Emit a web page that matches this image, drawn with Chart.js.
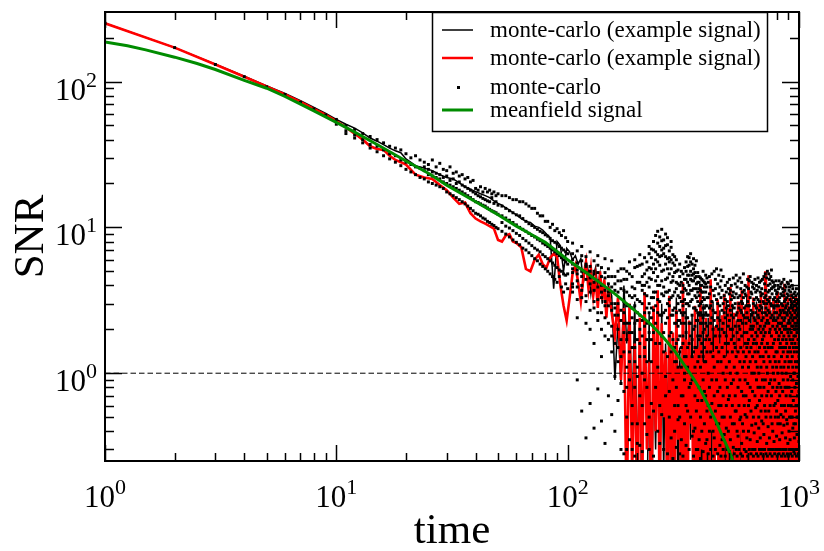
<!DOCTYPE html>
<html>
<head>
<meta charset="utf-8">
<script src="https://cdn.jsdelivr.net/npm/chart.js@4.4.1/dist/chart.umd.min.js"></script>
<style>
  html, body { margin: 0; padding: 0; background: #fff; }
</style>
</head>
<body>
<canvas id="snrChart" width="824" height="551"></canvas>
<script>
// time grid shared by the two example signals
const lineTime = [
  1, 2, 3, 4, 5, 6, 7, 8, 9, 10, 11, 12, 13, 14, 15, 16, 17, 18, 19, 20,
  22, 24, 26, 28, 30, 32, 34, 36, 38, 40, 42, 44, 46, 48, 50, 52, 54, 56, 58, 60,
  63, 66, 69, 72, 75, 78, 81, 84, 87, 90, 93, 96, 99, 102, 105, 108, 111, 114, 117, 120,
  123, 126, 129, 132, 135, 138, 141, 144, 147, 150,
  155, 160, 165, 170, 175, 180, 185, 190, 195, 200, 205, 210, 215, 220, 225, 230, 235, 240, 245, 250,
  255, 260, 265, 270, 275, 280, 285, 290, 295, 300, 305, 310, 315, 320, 325, 330, 335, 340, 345, 350,
  355, 360, 365, 370, 375, 380, 385, 390, 395, 400, 405, 410, 415, 420, 425, 430, 435, 440, 445, 450,
  455, 460, 465, 470, 475, 480, 485, 490, 495, 500, 505, 510, 515, 520, 525, 530, 535, 540, 545, 550,
  555, 560, 565, 570, 575, 580, 585, 590, 595, 600, 605, 610, 615, 620, 625, 630, 635, 640, 645, 650,
  655, 660, 665, 670, 675, 680, 685, 690, 695, 700, 705, 710, 715, 720, 725, 730, 735, 740, 745, 750,
  755, 760, 765, 770, 775, 780, 785, 790, 795, 800, 805, 810, 815, 820, 825, 830, 835, 840, 845, 850,
  855, 860, 865, 870, 875, 880, 885, 890, 895, 900, 905, 910, 915, 920, 925, 930, 935, 940, 945, 950,
  955, 960, 965, 970, 975, 980, 985, 990, 995, 1000
];

// monte-carlo example signal (black)
const exampleBlack = [
  251, 171, 131.5, 109, 93.5, 83, 74, 66.5, 60.5, 55, 51, 48, 44.5, 41, 39, 37, 35, 33.5, 32.5, 29.5,
  26.5, 25.5, 24.5, 23, 22, 21.5, 20.2, 19, 18.3, 17.6, 17, 16.5, 16, 15.2, 14.6, 14.2, 13.6, 13.2, 12.6, 12.2,
  11.5, 11, 10.8, 10.2, 10, 9.6, 9, 8.5, 3.8, 8, 7.5, 5, 7.2, 6.8, 6, 6.4, 5.6, 6.1, 4.2, 5.8,
  5, 3.5, 4.6, 5.3, 3.9, 4.8, 3, 4.3, 2.6, 4,
  3.4, 0.9, 2.2, 0.85, 4.0, 1.6, 2.5, 0.5, 3.1, 0.2, 1.8, 0.06, 0.1, 0.07, 2.6, 0.05, 1.4, 0.3, 2.0, 0.12,
  3.0, 0.2, 1.6, 0.4, 2.4, 0.08, 1.2, 0.25, 3.3, 0.1, 1.5, 0.3, 2.2, 0.07, 2.8, 0.18, 1.0, 0.35, 2.5, 0.09,
  1.7, 0.4, 2.6, 0.12, 1.3, 0.06, 3.0, 0.2, 1.6, 0.3, 2.4, 0.08, 1.5, 0.22, 3.1, 0.1, 1.9, 0.45, 1.2, 0.07,
  2.7, 0.15, 1.4, 0.3, 2.2, 0.06, 3.2, 0.2, 1.5, 0.1, 2.1, 0.35, 3.0, 0.08, 1.6, 0.25, 2.3, 0.06, 1.8, 0.4,
  2.9, 0.1, 1.3, 0.2, 2.5, 0.07, 1.7, 0.3, 3.4, 0.12, 1.9, 0.05, 2.6, 0.28, 1.4, 0.09, 2.2, 0.4, 1.6, 0.06,
  3.1, 0.18, 1.8, 0.08, 2.4, 0.3, 1.5, 0.1, 2.9, 0.2, 1.6, 0.35, 2.3, 0.07, 3.0, 0.15, 1.3, 0.06, 2.0, 0.25,
  2.7, 0.09, 1.9, 0.3, 1.4, 0.05, 3.2, 0.2, 1.8, 0.1, 2.2, 0.4, 1.5, 0.08, 2.6, 0.12, 3.0, 0.3, 1.2, 0.06,
  2.4, 0.15, 1.7, 0.25, 3.3, 0.07, 1.6, 0.35, 2.1, 0.09, 1.5, 0.3, 2.8, 0.06, 1.9, 0.2, 2.5, 0.1, 3.0, 0.18,
  1.7, 0.07, 2.3, 0.3, 1.4, 0.12, 2.6, 0.05, 2.0, 0.06
];

// monte-carlo example signal (red)
const exampleRed = [
  251, 171, 131, 108, 92.5, 81.5, 72.5, 65, 59, 53.5, 48.5, 44, 40, 36, 34.5, 34, 31, 29, 28, 27,
  23, 22, 21.5, 19.5, 18, 16, 14.5, 14.8, 12.5, 11.5, 11, 10.6, 10.2, 9.8, 8.2, 8, 8.8, 9, 8, 7.8,
  7.3, 5.2, 5, 6, 6.5, 5.6, 5.3, 6.2, 6.6, 6.3, 4, 2.9, 2.3, 3.3, 4.8, 5.5, 4.2, 3.1, 4.6, 5.8,
  3.8, 5.2, 3.4, 4.5, 2.8, 5, 3.2, 4.4, 2.4, 3.9,
  2.6, 1.8, 3.3, 0.9, 2.8, 0.1, 3.0, 0.2, 1.6, 0.08, 2.4, 0.15, 3.6, 0.3, 1.2, 0.07, 2.9, 0.4, 3.7, 0.1,
  2.2, 0.5, 1.4, 0.06, 3.4, 0.2, 1.9, 0.12, 2.7, 0.35, 1.1, 0.08, 4.2, 0.25, 1.7, 0.1, 2.3, 0.45, 1.3, 0.07,
  2.9, 0.18, 1.5, 0.09, 3.9, 0.3, 1.2, 0.06, 2.4, 0.2, 1.8, 0.11, 4.4, 0.4, 1.4, 0.07, 2.1, 0.28, 3.2, 0.09,
  1.6, 0.2, 2.5, 0.06, 3.5, 0.35, 1.3, 0.1, 2.8, 0.15, 3.9, 0.08, 1.7, 0.3, 2.6, 0.05, 1.4, 0.22, 3.1, 0.1,
  2.0, 0.4, 3.7, 0.07, 1.5, 0.18, 2.9, 0.09, 1.9, 0.3, 4.7, 0.12, 2.2, 0.06, 1.6, 0.33, 3.3, 0.1, 2.4, 0.2,
  1.4, 0.08, 3.0, 0.27, 2.1, 0.06, 3.6, 0.15, 1.7, 0.4, 2.5, 0.09, 5.0, 0.2, 1.8, 0.07, 2.7, 0.3, 3.4, 0.11,
  1.9, 0.25, 2.6, 0.06, 3.2, 0.16, 1.5, 0.08, 2.3, 0.35, 3.6, 0.1, 2.0, 0.05, 2.9, 0.22, 1.6, 0.12, 3.0, 0.07,
  1.8, 0.3, 4.1, 0.09, 2.2, 0.18, 1.4, 0.06, 3.3, 0.14, 2.6, 0.08, 1.7, 0.4, 3.5, 0.1, 2.0, 0.25, 1.3, 0.06,
  2.8, 0.2, 3.4, 0.07, 1.6, 0.3, 2.4, 0.11, 1.9, 0.09
];

// monte-carlo realisations (dots): one list of values per time
const mcTime = [
  1, 2, 3, 4, 5, 6, 7, 8, 9, 10, 11, 12, 13, 14, 15, 16, 17, 18, 19, 20,
  21, 22, 23, 24, 25, 26, 27, 28, 29, 30, 31, 32, 33, 34, 35, 36, 37, 38, 39, 40,
  41, 42, 43, 44, 45, 46, 47, 48, 49, 50,
  52, 54, 56, 58, 60, 62, 64, 66, 68, 70, 72, 74, 76, 78, 80, 82, 84, 86, 88, 90, 92, 94, 96, 98, 100,
  105, 110, 115, 120, 125, 130, 135, 140, 145, 150, 155, 160, 165, 170, 175, 180, 185, 190, 195, 200,
  205, 210, 215, 220, 225, 230, 235, 240, 245, 250, 255, 260, 265, 270, 275, 280, 285, 290, 295, 300,
  305, 310, 315, 320, 325, 330, 335, 340, 345, 350, 355, 360, 365, 370, 375, 380, 385, 390, 395, 400,
  405, 410, 415, 420, 425, 430, 435, 440, 445, 450, 455, 460, 465, 470, 475, 480, 485, 490, 495, 500,
  505, 510, 515, 520, 525, 530, 535, 540, 545, 550, 555, 560, 565, 570, 575, 580, 585, 590, 595, 600,
  605, 610, 615, 620, 625, 630, 635, 640, 645, 650, 655, 660, 665, 670, 675, 680, 685, 690, 695, 700,
  705, 710, 715, 720, 725, 730, 735, 740, 745, 750, 755, 760, 765, 770, 775, 780, 785, 790, 795, 800,
  805, 810, 815, 820, 825, 830, 835, 840, 845, 850, 855, 860, 865, 870, 875, 880, 885, 890, 895, 900,
  905, 910, 915, 920, 925, 930, 935, 940, 945, 950, 955, 960, 965, 970, 975, 980, 985, 990, 995, 1000
];

const mcSnr = [
  [251], [171], [131], [108], [92], [81.5], [72], [65], [59], [55, 51],
  [50, 46, 44], [47, 43, 41], [44, 40, 38], [42, 37, 35], [40, 36, 33],
  [38, 34, 31], [36, 32, 29.5], [35, 31, 28], [34, 29, 26.5], [32, 28, 25],
  [30, 27, 24], [31, 26, 23], [29, 25.5, 22], [28, 24.5, 21.5, 26], [27, 23, 20.5, 25],
  [29, 22.5, 20, 24], [26, 22, 19.5, 23.5], [27.5, 21.5, 19, 23], [25, 20.5, 18.5, 22], [24.5, 20, 17.5, 22.5],
  [26, 19.5, 17, 21], [23.5, 19, 16.5, 21.5], [24, 18.5, 16, 20], [22.5, 18, 15.5, 20.5], [23, 17.5, 15, 19.5],
  [21.5, 17, 14.5, 19], [22, 16.5, 14, 18.5], [20.5, 16, 13.5, 18], [21, 15.5, 13, 17.5], [18.5, 15, 12.5, 17],
  [18, 14.8, 12.3, 16.5], [19, 14.5, 12, 16.2], [17.5, 14.2, 11.6, 15.8], [18.5, 14, 11.4, 15.5], [17.5, 13.6, 11, 15.2],
  [18, 13.3, 10.8, 15], [17, 13, 10.5, 16], [17.5, 12.8, 10.3, 14.6], [16.5, 12.6, 10, 15], [17, 12.3, 9.8, 14.2],
  [16.5, 12, 9.4, 14, 10.8], [16.5, 11.6, 9, 13.5, 10.2], [16, 11.2, 8.6, 13, 9.9], [15.5, 10.8, 8.2, 12.6, 9.5], [15.5, 10.4, 7.9, 12.2, 9.1],
  [15, 10, 7.6, 12, 8.8], [15, 9.7, 7.2, 11.5, 8.4], [14.5, 9.4, 7, 11, 8.1], [14, 9.1, 6.7, 10.6, 7.8], [13.5, 8.8, 6.4, 10.3, 7.5],
  [13.5, 8.6, 6.1, 10, 7.2], [12.5, 8.3, 5.9, 9.7, 7], [12, 8.1, 5.6, 9.4, 6.8], [12, 7.8, 5.4, 9.2, 6.5], [11, 7.6, 5.2, 8.9, 6.3],
  [11, 7.4, 5, 8.7, 6.1], [10, 7.2, 4.8, 8.4, 5.9], [10.5, 7, 4.6, 8.1, 5.7], [9.5, 6.8, 4.4, 7.9, 5.5], [9.8, 6.6, 4.2, 7.7, 5.3],
  [9.2, 6.4, 4.6, 7.4, 5.1], [8.8, 6.2, 3.9, 7.2, 5], [9.5, 6, 3.6, 7, 4.8], [8.5, 5.8, 4.1, 6.8, 4.7], [8, 5.6, 3.8, 6.6, 4.8],
  [6.6, 4.9, 7.8, 3.9, 5.6, 5.2, 4.1, 6.0, 3.6], [5.1, 0.9, 6.9, 4.3, 3.2, 4.8, 5.7, 3.9, 2.4],
  [4.6, 7.4, 0.55, 5.9, 3.7, 4.0, 5.0, 3.3, 6.4], [3.4, 5.4, 0.36, 6.3, 4.4, 4.9, 3.1, 5.6, 2.2],
  [0.62, 4.1, 6.8, 2.7, 5.0, 3.6, 4.5, 2.0, 5.4], [4.8, 0.42, 3.1, 5.9, 1.6, 4.2, 2.8, 5.0, 3.7],
  [2.3, 6.4, 0.78, 3.9, 4.9, 3.2, 4.3, 2.6, 5.5], [5.3, 1.3, 0.47, 3.6, 2.6, 4.6, 3.3, 2.0, 4.0],
  [0.33, 4.5, 2.9, 6.1, 1.8, 3.7, 2.4, 4.9, 3.1], [3.4, 0.7, 5.2, 2.2, 4.1, 2.9, 4.6, 1.7, 3.6],
  [1.4, 5.9, 0.52, 3.0, 2.1, 3.9, 2.7, 4.6, 1.8], [4.6, 2.5, 0.95, 3.7, 0.4, 3.0, 4.1, 1.6, 2.8],
  [2.0, 0.65, 4.3, 1.2, 3.0, 3.6, 2.5, 5.0, 1.5], [5.2, 0.3, 2.7, 1.7, 0.85, 2.3, 3.8, 1.3, 4.3],
  [3.1, 0.75, 4.4, 1.4, 0.28, 2.2, 2.6, 3.7, 1.9, 5.2], [0.5, 2.2, 3.6, 1.1, 5.0, 0.3, 2.9, 1.7, 4.4, 0.8],
  [1.9, 4.8, 0.35, 2.9, 0.9, 1.4, 3.4, 2.2, 5.8, 1.2], [3.9, 0.6, 1.5, 2.4, 0.3, 0.45, 2.8, 4.6, 1.9, 3.3],
  [0.8, 2.9, 5.3, 1.2, 3.8, 0.27, 2.2, 3.4, 1.5, 6.0], [2.6, 0.45, 4.2, 1.7, 0.95, 0.33, 3.2, 5.4, 2.3, 1.1],
  [5.5, 1.3, 3.1, 0.32, 2.0, 0.7, 4.2, 2.5, 6.5, 1.6], [1.0, 3.7, 0.6, 4.6, 2.3, 0.29, 3.0, 5.6, 1.8, 4.0],
  [4.0, 2.1, 6.2, 0.45, 1.5, 0.9, 2.6, 4.8, 3.5, 1.3], [2.8, 5.1, 0.8, 3.4, 1.2, 0.38, 5.8, 2.2, 4.2, 1.7],
  [6.6, 1.9, 3.9, 0.5, 4.5, 0.3, 3.0, 5.3, 2.6, 7.4], [3.3, 7.1, 1.2, 5.2, 2.4, 0.62, 4.4, 2.8, 6.2, 1.7],
  [8.0, 2.7, 4.9, 0.55, 3.6, 0.27, 5.6, 3.3, 7.0, 1.9], [4.3, 8.8, 1.6, 6.0, 2.9, 0.8, 3.6, 6.8, 2.2, 5.2],
  [5.8, 3.2, 9.4, 1.1, 4.6, 0.4, 7.8, 4.0, 2.6, 6.5], [2.5, 7.4, 4.0, 0.6, 6.3, 0.33, 5.5, 3.1, 8.6, 1.6],
  [9.7, 5.0, 1.8, 3.5, 7.0, 0.52, 4.3, 6.4, 2.5, 8.1], [3.9, 1.4, 6.6, 8.2, 2.6, 0.3, 5.1, 3.4, 7.2, 1.9],
  [7.5, 4.4, 2.2, 5.6, 0.7, 0.95, 3.6, 6.3, 9.0, 2.7], [5.2, 8.5, 3.0, 1.3, 6.1, 0.28, 4.5, 7.6, 2.4, 3.6],
  [2.9, 6.9, 4.8, 0.5, 3.7, 0.75, 5.8, 3.2, 6.2, 1.8], [6.0, 1.9, 4.2, 7.3, 2.5, 0.36, 3.3, 5.2, 8.0, 1.4],
  [3.4, 5.7, 0.9, 2.7, 4.6, 0.26, 4.3, 2.5, 6.5, 1.7], [4.9, 2.2, 6.3, 1.5, 0.4, 0.6, 3.6, 5.5, 2.8, 1.2],
  [1.2, 3.8, 2.6, 5.0, 0.8, 0.31, 4.2, 2.2, 6.0, 1.6], [4.1, 1.7, 3.0, 0.6, 2.3, 0.48, 3.4, 5.1, 2.1, 1.1],
  [2.7, 4.6, 0.5, 1.4, 3.3, 0.28, 2.3, 4.0, 1.8, 5.6], [3.6, 1.1, 5.0, 2.2, 0.35, 0.7, 3.1, 1.5, 4.2, 2.6],
  [1.8, 4.0, 0.7, 3.1, 2.5, 0.27, 2.9, 4.8, 1.6, 3.6], [5.3, 2.6, 1.3, 3.8, 0.45, 0.9, 2.2, 4.4, 3.2, 1.0],
  [3.0, 5.8, 1.9, 0.6, 4.4, 0.32, 3.7, 2.4, 5.0, 1.3], [6.3, 2.4, 4.7, 1.1, 3.5, 0.55, 5.4, 3.0, 4.2, 1.5],
  [4.0, 5.5, 0.8, 2.9, 1.6, 0.3, 4.7, 2.2, 6.2, 3.5], [2.2, 6.6, 3.7, 5.0, 0.5, 0.85, 3.1, 4.4, 1.8, 5.8],
  [5.6, 1.3, 3.2, 4.3, 0.9, 0.37, 4.7, 2.5, 3.7, 1.7], [3.8, 6.1, 2.0, 0.4, 4.8, 0.27, 5.2, 2.8, 4.3, 1.4],
  [1.5, 4.5, 2.8, 5.5, 0.7, 0.42, 3.4, 2.1, 4.9, 1.1], [5.9, 3.3, 0.55, 2.3, 4.1, 0.3, 4.6, 2.7, 3.8, 1.5],
  [2.6, 4.9, 1.2, 3.6, 0.3, 0.65, 3.1, 4.2, 1.8, 2.3], [4.2, 0.8, 2.9, 1.7, 3.4, 0.35, 2.5, 3.8, 1.3, 4.6],
  [1.1, 3.7, 2.2, 0.5, 4.5, 0.26, 3.0, 1.8, 4.0, 2.6], [3.1, 1.6, 4.0, 2.5, 0.65, 0.4, 2.2, 3.6, 1.4, 4.4],
  [2.4, 4.3, 0.9, 3.3, 1.3, 0.29, 3.6, 1.9, 2.8, 5.0], [0.45, 2.8, 3.9, 1.5, 2.0, 0.75, 2.5, 4.2, 1.2, 3.2],
  [3.6, 1.2, 2.6, 4.7, 0.7, 0.33, 2.9, 1.7, 4.1, 2.2], [2.1, 3.9, 0.35, 1.8, 2.9, 0.55, 3.3, 2.5, 1.4, 4.5],
  [4.2, 1.0, 2.5, 0.6, 3.3, 0.28], [1.7, 3.5, 0.8, 2.8, 4.6, 0.4], [2.9, 0.5, 3.9, 1.4, 2.2, 0.3], [0.9, 2.4, 4.8, 3.1, 1.6, 0.62],
  [3.7, 1.3, 2.7, 0.4, 2.0, 0.27], [2.3, 5.0, 1.1, 3.4, 0.7, 0.36], [4.4, 2.6, 0.55, 1.8, 3.8, 0.3], [1.5, 3.2, 5.2, 2.1, 0.9, 0.45],
  [3.0, 0.75, 2.4, 4.1, 1.2, 0.28], [2.0, 4.7, 1.4, 0.45, 3.5, 0.6], [3.9, 1.8, 2.9, 0.8, 2.3, 0.32], [1.2, 4.3, 0.6, 3.3, 5.1, 0.27],
  [2.7, 1.5, 3.7, 0.35, 2.0, 0.5], [4.6, 2.2, 1.0, 3.0, 0.7, 0.3], [1.9, 3.4, 0.5, 2.6, 1.3, 0.38], [3.2, 0.9, 4.0, 1.6, 2.4, 0.27],
  [0.6, 2.8, 1.8, 3.6, 1.1, 0.42], [2.5, 4.2, 0.8, 1.4, 3.1, 0.3], [1.6, 0.4, 2.9, 3.8, 2.1, 0.66], [3.5, 1.2, 2.3, 0.7, 4.4, 0.29],
  [2.0, 3.7, 1.0, 2.7, 0.5, 0.35], [0.85, 2.5, 4.0, 1.7, 3.2, 0.27], [3.4, 1.4, 0.6, 2.9, 2.0, 0.45], [1.8, 4.5, 2.4, 0.9, 3.6, 0.31],
  [2.8, 0.45, 1.6, 3.3, 1.1, 0.28], [4.1, 2.1, 3.0, 0.7, 1.5, 0.55], [1.3, 3.5, 0.55, 2.5, 4.7, 0.3], [2.6, 1.0, 3.9, 1.9, 0.4, 0.27],
  [3.3, 2.3, 0.8, 4.3, 1.4, 0.37], [1.7, 3.0, 2.1, 0.6, 2.8, 0.3], [4.5, 1.2, 3.4, 2.0, 0.9, 0.48], [0.5, 2.7, 1.5, 3.8, 2.3, 0.28],
  [3.1, 0.75, 4.2, 1.8, 2.6, 0.33], [2.2, 3.6, 1.1, 0.45, 3.0, 0.27], [1.4, 4.8, 2.5, 3.3, 0.7, 0.4], [3.7, 1.9, 0.6, 2.8, 1.2, 0.3],
  [2.4, 0.9, 3.5, 1.6, 4.0, 0.52], [0.7, 2.9, 1.3, 2.2, 3.4, 0.29], [3.9, 1.5, 2.6, 0.5, 1.9, 0.36], [1.6, 4.4, 0.85, 3.1, 2.4, 0.27],
  [2.9, 1.1, 3.8, 1.7, 0.4, 0.6], [4.3, 2.3, 0.65, 2.9, 1.4, 0.3], [1.2, 3.3, 2.0, 4.6, 0.8, 0.35], [2.7, 0.55, 3.6, 1.5, 2.1, 0.28],
  [3.5, 1.8, 1.0, 2.5, 4.2, 0.44], [0.75, 2.6, 3.9, 1.3, 2.0, 0.3], [2.1, 4.1, 1.6, 0.5, 3.0, 0.27], [3.8, 1.0, 2.4, 3.2, 1.7, 0.39],
  [1.4, 2.9, 0.7, 4.4, 2.3, 0.3], [2.6, 3.6, 1.2, 0.45, 1.9, 0.58], [4.0, 1.6, 2.8, 0.9, 3.3, 0.28], [1.1, 2.2, 3.7, 1.8, 0.6, 0.34],
  [3.2, 0.8, 2.5, 4.5, 1.4, 0.27], [2.4, 3.9, 1.0, 2.0, 0.5, 0.42], [0.65, 2.7, 4.2, 1.5, 3.1, 0.3], [3.6, 1.3, 2.1, 0.8, 2.9, 0.36],
  [1.9, 4.3, 0.55, 3.4, 1.1, 0.28], [2.8, 1.6, 3.8, 2.3, 0.7, 0.47], [4.4, 0.9, 1.7, 2.6, 3.5, 0.3], [1.3, 3.1, 2.4, 0.45, 2.0, 0.27],
  [3.0, 1.8, 4.6, 1.2, 0.8, 0.38], [2.1, 4.1, 0.6, 3.3, 1.5, 0.3], [0.9, 2.6, 3.7, 1.9, 4.8, 0.55], [3.4, 1.4, 2.2, 0.5, 2.8, 0.28],
  [2.5, 4.5, 1.1, 3.0, 0.7, 0.33], [1.6, 3.2, 5.0, 2.3, 1.0, 0.27], [4.0, 0.75, 2.7, 1.5, 3.6, 0.43], [2.2, 4.8, 1.3, 0.55, 3.1, 0.3],
  [3.7, 1.9, 0.85, 2.6, 4.4, 0.36], [1.2, 3.3, 2.0, 4.1, 0.6, 0.28], [4.6, 2.4, 1.5, 0.9, 3.0, 0.5], [2.9, 5.1, 0.7, 1.8, 3.8, 0.3],
  [1.5, 3.5, 2.5, 4.3, 0.45, 0.27], [3.9, 1.1, 2.9, 0.8, 2.1, 0.4], [2.3, 4.2, 1.6, 3.2, 1.0, 0.3], [0.6, 2.8, 3.9, 1.3, 2.4, 0.34],
  [3.3, 1.7, 0.9, 2.6, 4.0, 0.28], [2.0, 3.7, 1.2, 0.5, 2.9, 0.62], [4.3, 1.4, 2.3, 3.1, 0.75, 0.3], [1.1, 2.6, 3.5, 1.9, 0.55, 0.37],
  [3.6, 0.8, 2.1, 1.4, 2.9, 0.27], [2.4, 4.0, 1.0, 3.2, 0.65, 0.45], [1.7, 2.9, 0.5, 2.2, 3.8, 0.3], [3.1, 1.2, 4.3, 1.8, 0.85, 0.28],
  [0.7, 2.5, 3.3, 1.5, 2.0, 0.35], [3.9, 1.6, 2.7, 0.45, 2.2, 0.3], [2.6, 3.5, 1.1, 4.1, 0.8, 0.52], [1.3, 2.2, 3.0, 0.6, 1.9, 0.27],
  [4.2, 1.0, 2.4, 3.4, 1.5, 0.39], [2.1, 3.8, 0.75, 1.7, 2.9, 0.3], [0.9, 2.7, 1.4, 3.6, 0.5, 0.28], [3.4, 1.8, 4.4, 2.3, 1.1, 0.44],
  [2.0, 0.6, 3.1, 1.5, 2.6, 0.3], [3.7, 2.4, 1.2, 0.8, 4.0, 0.27], [1.5, 3.2, 2.1, 0.55, 2.8, 0.36], [2.9, 1.0, 3.9, 1.7, 0.7, 0.3],
  [0.8, 2.6, 1.6, 3.3, 2.0, 0.48], [3.5, 1.3, 2.5, 0.45, 4.2, 0.28], [1.9, 3.0, 0.9, 2.2, 1.4, 0.33], [2.7, 4.1, 1.1, 3.4, 0.6, 0.27],
  [1.2, 2.3, 3.7, 0.8, 1.8, 0.4], [3.9, 1.5, 2.8, 2.0, 0.5, 0.3], [2.2, 0.7, 1.7, 3.2, 2.6, 0.35], [1.4, 3.6, 0.95, 2.4, 4.3, 0.28],
  [3.1, 1.9, 2.9, 0.6, 1.2, 0.5], [0.75, 2.5, 3.4, 1.6, 2.1, 0.3], [2.8, 4.0, 1.3, 0.5, 3.0, 0.27], [1.7, 0.9, 2.3, 3.8, 1.1, 0.42],
  [3.3, 2.1, 0.65, 1.5, 2.7, 0.3], [2.4, 3.5, 1.8, 1.0, 0.45, 0.29], [1.0, 2.9, 3.1, 2.0, 1.4, 0.36], [3.6, 1.6, 0.8, 2.6, 2.2, 0.28],
  [2.0, 3.2, 1.2, 0.55, 1.8, 0.45], [0.6, 2.4, 2.9, 1.5, 3.4, 0.3], [2.7, 1.1, 3.8, 2.1, 0.85, 0.27], [1.5, 3.0, 0.5, 2.5, 1.9, 0.38],
  [3.2, 2.2, 1.4, 0.7, 2.8, 0.3], [2.3, 0.95, 3.5, 1.7, 1.2, 0.5], [1.2, 2.6, 2.0, 3.1, 0.6, 0.28], [2.5, 1.6, 0.75, 2.9, 1.3, 0.34]
];

// meanfield signal (green)
const meanTime = [1, 1.25, 1.5, 2, 2.5, 3, 4, 5, 6, 7, 8, 10, 12, 15, 20, 25, 30, 40, 50, 60,
  70, 80, 100, 120, 140, 160, 180, 200, 230, 260, 290, 320, 350, 380, 410, 440, 470, 500, 530, 560];
const meanSnr = [187, 176, 165, 147, 133, 121, 102, 90, 79, 70, 63, 52.5, 45, 37, 28.5, 23.5, 19.5, 15, 12.2, 10.2,
  8.9, 7.9, 6.0, 4.9, 4.1, 3.5, 3.0, 2.6, 2.15, 1.75, 1.42, 1.13, 0.92, 0.74, 0.58, 0.46, 0.36, 0.29, 0.23, 0.18];

// SNR = 1 reference
const thresholdTime = [1, 1000];
const thresholdSnr = [1, 1];

const xDecades = [1, 10, 100, 1000];
const yDecades = [1, 10, 100];
const legendLabels = ['monte-carlo (example signal)', 'monte-carlo (example signal)', 'monte-carlo', 'meanfield signal'];

const GREEN = '#008c00';
const SERIF = '"Liberation Serif", "Times New Roman", serif';

const toPoints = (xs, ys) => xs.map((x, i) => ({ x: x, y: ys[i] }));

const dotPoints = [];
mcTime.forEach((t, i) => {
    mcSnr[i].forEach(v => dotPoints.push({ x: t, y: v }));
});

// draw "10" with a raised exponent
function drawPower(ctx, exp, x, y, align) {
    ctx.font = '31px ' + SERIF;
    const wBase = ctx.measureText('10').width;
    ctx.font = '22px ' + SERIF;
    const wExp = ctx.measureText(String(exp)).width;
    const total = wBase + wExp;
    let left = x - total / 2;
    if (align === 'right') left = x - total;
    ctx.textAlign = 'left';
    ctx.textBaseline = 'alphabetic';
    ctx.font = '31px ' + SERIF;
    ctx.fillText('10', left, y);
    ctx.font = '22px ' + SERIF;
    ctx.fillText(String(exp), left + wBase, y - 13);
}

// frame, inward ticks on all four sides, labels and legend
const framePlugin = {
    id: 'framePlugin',
    afterDraw(chart) {
        const { ctx, chartArea: a, scales } = chart;
        const xs = scales.x, ys = scales.y;
        ctx.save();
        ctx.strokeStyle = '#000';
        ctx.fillStyle = '#000';

        ctx.lineWidth = 1.5;
        ctx.beginPath();
        xDecades.forEach(d => {
            for (let k = 1; k <= 9; k++) {
                const v = d * k;
                if (v > 1000 || (k > 1 && d === 1000)) continue;
                const px = Math.round(xs.getPixelForValue(v)) + 0.5;
                const len = k === 1 ? 16 : 8;
                ctx.moveTo(px, a.bottom); ctx.lineTo(px, a.bottom - len);
                ctx.moveTo(px, a.top); ctx.lineTo(px, a.top + len);
            }
        });
        [0.1, 1, 10, 100].forEach(d => {
            for (let k = 1; k <= 9; k++) {
                const v = d * k;
                if (v < 0.25 || v >= 300) continue;
                const py = Math.round(ys.getPixelForValue(v)) + 0.5;
                const len = k === 1 ? 17 : 9;
                ctx.moveTo(a.left, py); ctx.lineTo(a.left + len, py);
                ctx.moveTo(a.right, py); ctx.lineTo(a.right - len, py);
            }
        });
        ctx.stroke();

        ctx.lineWidth = 2;
        ctx.strokeRect(a.left, a.top, a.right - a.left, a.bottom - a.top);

        // tick labels
        xDecades.forEach(d => drawPower(ctx, Math.round(Math.log10(d)), xs.getPixelForValue(d), 507, 'center'));
        yDecades.forEach(d => drawPower(ctx, Math.round(Math.log10(d)), 97, ys.getPixelForValue(d) + 18, 'right'));

        // axis titles
        ctx.font = '43px ' + SERIF;
        ctx.textAlign = 'center';
        ctx.textBaseline = 'alphabetic';
        ctx.fillText('time', (a.left + a.right) / 2, 543);
        ctx.save();
        ctx.translate(43, (a.top + a.bottom) / 2);
        ctx.rotate(-Math.PI / 2);
        ctx.fillText('SNR', 0, 0);
        ctx.restore();

        // legend box
        const bx = 432, by = 12, bw = 335, bh = 119;
        ctx.fillStyle = '#fff';
        ctx.fillRect(bx, by, bw, bh);
        ctx.lineWidth = 1.5;
        ctx.strokeStyle = '#000';
        ctx.strokeRect(bx + 0.5, by + 0.5, bw, bh);
        const rows = [30, 58, 87, 110];
        const colors = ['#000', '#ff0000', null, GREEN];
        const widths = [1.5, 2.5, 0, 3];
        ctx.font = '23px ' + SERIF;
        ctx.textAlign = 'left';
        ctx.textBaseline = 'middle';
        rows.forEach((ry, i) => {
            if (colors[i]) {
                ctx.strokeStyle = colors[i];
                ctx.lineWidth = widths[i];
                ctx.beginPath();
                ctx.moveTo(442, ry);
                ctx.lineTo(473, ry);
                ctx.stroke();
            } else {
                ctx.fillStyle = '#000';
                ctx.fillRect(457, ry - 1, 3, 3);
            }
            ctx.fillStyle = '#000';
            ctx.fillText(legendLabels[i], 490, ry + 1);
        });
        ctx.restore();
    },
};

const ctx = document.getElementById('snrChart').getContext('2d');
new Chart(ctx, {
    type: 'scatter',
    data: {
        datasets: [
            {
                label: 'meanfield signal',
                data: toPoints(meanTime, meanSnr),
                showLine: true,
                borderColor: GREEN,
                borderWidth: 3,
                pointRadius: 0,
                clip: 0,
                order: 0,
            },
            {
                label: 'threshold',
                data: toPoints(thresholdTime, thresholdSnr),
                showLine: true,
                borderColor: '#000',
                borderWidth: 1,
                borderDash: [5.5, 3],
                pointRadius: 0,
                clip: 0,
                order: 1,
            },
            {
                label: 'monte-carlo',
                data: dotPoints,
                showLine: false,
                pointStyle: 'rect',
                backgroundColor: '#000',
                borderColor: '#000',
                borderWidth: 0,
                pointRadius: 2.1,
                clip: 0,
                order: 2,
            },
            {
                label: 'monte-carlo (example signal)',
                data: toPoints(lineTime, exampleRed),
                showLine: true,
                borderColor: '#ff0000',
                borderWidth: 2.6,
                pointRadius: 0,
                clip: 0,
                order: 3,
            },
            {
                label: 'monte-carlo (example signal)',
                data: toPoints(lineTime, exampleBlack),
                showLine: true,
                borderColor: '#000',
                borderWidth: 1.5,
                pointRadius: 0,
                clip: 0,
                order: 4,
            },
        ],
    },
    options: {
        responsive: false,
        animation: false,
        layout: {
            padding: { left: 105, right: 25, top: 12, bottom: 90 },
        },
        scales: {
            x: { type: 'logarithmic', min: 1, max: 1000, display: false },
            y: { type: 'logarithmic', min: 0.25, max: 300, display: false },
        },
        plugins: {
            legend: { display: false },
            tooltip: { enabled: false },
        },
    },
    plugins: [framePlugin],
});
</script>
</body>
</html>
